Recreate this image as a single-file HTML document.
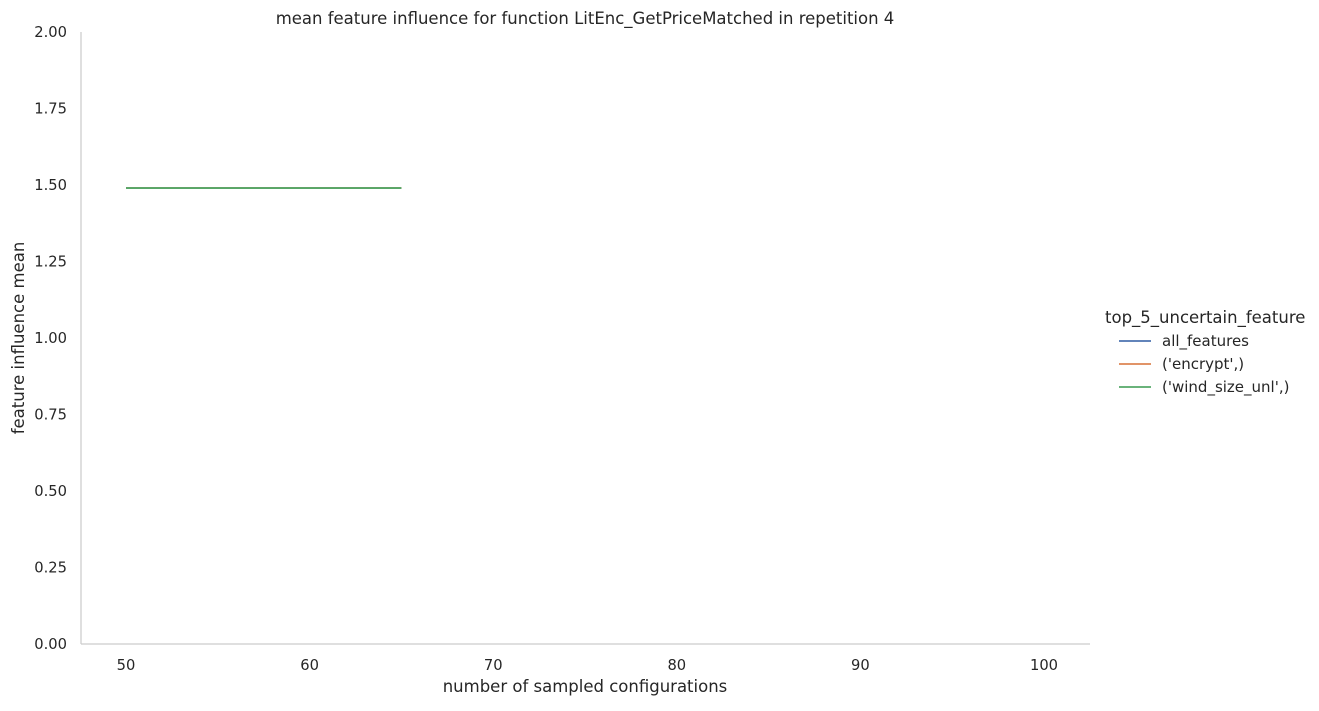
<!DOCTYPE html>
<html><head><meta charset="utf-8"><style>
body{margin:0;background:#fff;}
svg text{font-family:"DejaVu Sans","Liberation Sans",sans-serif;fill:#262626;}
</style></head><body>
<svg id="chart" width="1319" height="706" xmlns="http://www.w3.org/2000/svg">
<text x="585" y="24" font-size="16.5" text-anchor="middle">mean feature influence for function LitEnc_GetPriceMatched in repetition 4</text>
<g id="yticks"></g>
<g id="xticks"></g>
<line x1="81" y1="32" x2="81" y2="644" stroke="#cccccc" stroke-width="1.25"/>
<line x1="81" y1="644" x2="1090" y2="644" stroke="#cccccc" stroke-width="1.25"/>
<text transform="translate(24,338) rotate(-90)" font-size="16.5" text-anchor="middle">feature influence mean</text>
<text x="585" y="692" font-size="16.5" text-anchor="middle">number of sampled configurations</text>
<g id="series"></g>
<g id="legend">
<text x="1105" y="323" font-size="16.5">top_5_uncertain_feature</text>
</g>
</svg>
<script>
const xValues = [50, 65];
const seriesNames = ["all_features", "('encrypt',)", "('wind_size_unl',)"];
const seriesAll = [1.49, 1.49];
const seriesEncrypt = [1.49, 1.49];
const seriesWind = [1.49, 1.49];
const yTickLabels = ["0.00","0.25","0.50","0.75","1.00","1.25","1.50","1.75","2.00"];
const xTickLabels = [50,60,70,80,90,100];
const colors = ["#4c72b0","#dd8452","#55a868"];
const NS="http://www.w3.org/2000/svg";
function xs(v){return 126+(v-50)*(1044-126)/50;}
function ys(v){return 644-v*(644-32)/2;}
function mk(t,a,p){const e=document.createElementNS(NS,t);for(const k in a)e.setAttribute(k,a[k]);p.appendChild(e);return e;}
const yt=document.getElementById('yticks');
yTickLabels.forEach(l=>{const t=mk('text',{x:67,y:ys(+l)+5,'font-size':14.7,'text-anchor':'end'},yt);


t.textContent=l;});
const xt=document.getElementById('xticks');
xTickLabels.forEach(l=>{const t=mk('text',{x:xs(l),y:670,'font-size':14.7,'text-anchor':'middle'},xt);


t.textContent=l;});
const sg=document.getElementById('series');
[seriesAll,seriesEncrypt,seriesWind].forEach((s,i)=>{
const pts=s.map((v,j)=>xs(xValues[j])+','+ys(v)).join(' ');
const p=mk('polyline',{points:pts,fill:'none',stroke:colors[i],'stroke-width':1.8},sg);


});
const lg=document.getElementById('legend');
seriesNames.forEach((n,i)=>{const y=341+i*23;
const l=mk('line',{x1:1119,y1:y,x2:1151,y2:y,stroke:colors[i],'stroke-width':1.8},lg);


const t=mk('text',{x:1162,y:y+5,'font-size':15,},lg);


t.textContent=n;});
</script>
</body></html>
